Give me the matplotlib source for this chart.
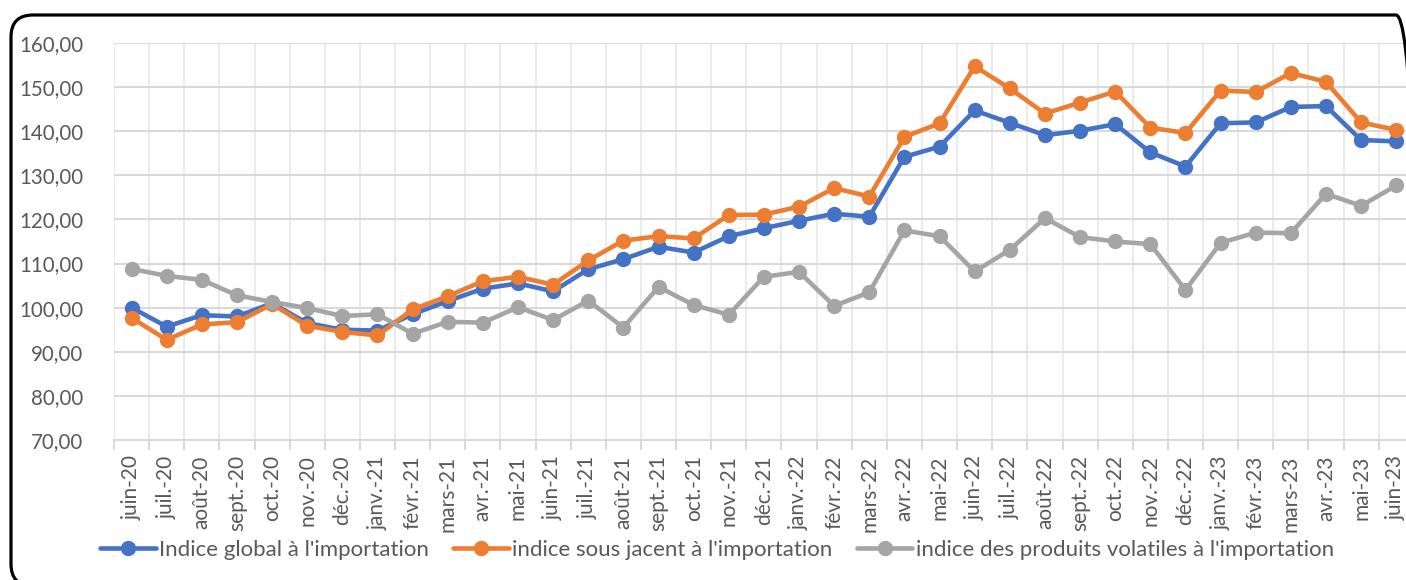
import numpy as np
import matplotlib.pyplot as plt
from matplotlib.patches import FancyBboxPatch
from matplotlib.ticker import FuncFormatter

# months shown on the x axis
months = ['juin-20', 'juil.-20', 'août-20', 'sept.-20', 'oct.-20', 'nov.-20', 'déc.-20',
          'janv.-21', 'févr.-21', 'mars-21', 'avr.-21', 'mai-21', 'juin-21', 'juil.-21',
          'août-21', 'sept.-21', 'oct.-21', 'nov.-21', 'déc.-21', 'janv.-22', 'févr.-22',
          'mars-22', 'avr.-22', 'mai-22', 'juin-22', 'juil.-22', 'août-22', 'sept.-22',
          'oct.-22', 'nov.-22', 'déc.-22', 'janv.-23', 'févr.-23', 'mars-23', 'avr.-23',
          'mai-23', 'juin-23']

indice_global = [100.0, 95.7, 98.3, 98.0, 101.0, 96.5, 95.0, 94.8, 98.5, 101.5, 104.3, 105.5,
                 103.7, 108.7, 111.0, 113.8, 112.5, 116.2, 118.0, 119.7, 121.3, 120.6, 134.2,
                 136.5, 144.7, 141.9, 139.1, 140.1, 141.6, 135.2, 132.0, 141.8, 142.0, 145.5,
                 145.7, 138.0, 137.7]

indice_sous_jacent = [97.7, 92.7, 96.2, 96.7, 100.8, 95.9, 94.5, 93.7, 99.6, 102.6, 106.0, 107.0,
                      105.2, 110.7, 115.2, 116.2, 115.7, 121.0, 121.1, 122.9, 127.1, 125.2, 138.7,
                      141.8, 154.7, 149.7, 144.0, 146.5, 149.0, 140.8, 139.6, 149.2, 148.9, 153.2,
                      151.2, 142.0, 140.3]

indice_volatiles = [108.8, 107.2, 106.3, 102.8, 101.3, 99.9, 98.1, 98.5, 94.1, 96.8, 96.6, 100.1,
                    97.2, 101.6, 95.5, 104.7, 100.6, 98.4, 107.0, 108.1, 100.4, 103.5, 117.5,
                    116.2, 108.2, 113.1, 120.3, 116.0, 115.0, 114.4, 104.0, 114.7, 117.0, 116.9,
                    125.8, 123.1, 127.7]

series_names = ["Indice global à l'importation",
                "indice sous jacent à l'importation",
                "indice des produits volatiles à l'importation"]
colors = ['#4472C4', '#ED7D31', '#A5A5A5']

plt.rcParams['font.family'] = ['Lato', 'DejaVu Sans']
text_col = '#595959'

W, H = 1406, 580
fig = plt.figure(figsize=(W / 100, H / 100), dpi=100)

# plot area in pixels: left 114, top 43, bottom 440, one category = 35.13 px
left, top, bottom = 114, 43, 440
width = 37 * 35.13
ax = fig.add_axes([left / W, 1 - bottom / H, width / W, (bottom - top) / H])

x = np.arange(len(months))
for vals, name, c in zip([indice_global, indice_sous_jacent, indice_volatiles], series_names, colors):
    ax.plot(x, vals, color=c, lw=3.3, marker='o', ms=10, label=name,
            solid_capstyle='round', clip_on=False, zorder=3)

ax.set_xlim(-0.5, len(months) - 0.5)
ax.set_ylim(70, 160)
ax.set_yticks(np.arange(70, 161, 10))
ax.yaxis.set_major_formatter(FuncFormatter(lambda v, p: f'{v:.2f}'.replace('.', ',')))

ax.set_xticks(x)
ax.set_xticklabels(months, rotation=90)
ax.set_xticks(np.arange(-0.5, len(months)), minor=True)
ax.tick_params(axis='x', which='major', length=0, pad=11, labelsize=15, labelcolor=text_col)
ax.tick_params(axis='x', which='minor', length=7, width=1.5, color='#D9D9D9')
ax.tick_params(axis='y', length=0, pad=22, labelsize=14.8, labelcolor=text_col)

ax.grid(axis='y', which='major', color='#D9D9D9', lw=1.5)
ax.grid(axis='x', which='minor', color='#EBEBEB', lw=1.5)
ax.set_axisbelow(True)
for s in ['top', 'right', 'left']:
    ax.spines[s].set_visible(False)
ax.spines['bottom'].set_color('#D9D9D9')
ax.spines['bottom'].set_linewidth(1.5)

leg = fig.legend(loc='center left', bbox_to_anchor=(100 / W, 1 - 550 / H), ncol=3,
                 frameon=False, fontsize=16, handlelength=2.5, handletextpad=0.15,
                 columnspacing=1.1, borderaxespad=0, borderpad=0)
for t in leg.get_texts():
    t.set_color(text_col)

# rounded outer border (runs past the right and bottom edges)
frame = FancyBboxPatch((11 / 100, (H - 586) / 100), (1418 - 11) / 100, (586 - 15) / 100,
                       boxstyle='round,pad=0,rounding_size=0.22', transform=fig.dpi_scale_trans,
                       fc='none', ec='black', lw=2.3, clip_on=False)
fig.patches.append(frame)

fig.savefig('out.png', dpi=100)
